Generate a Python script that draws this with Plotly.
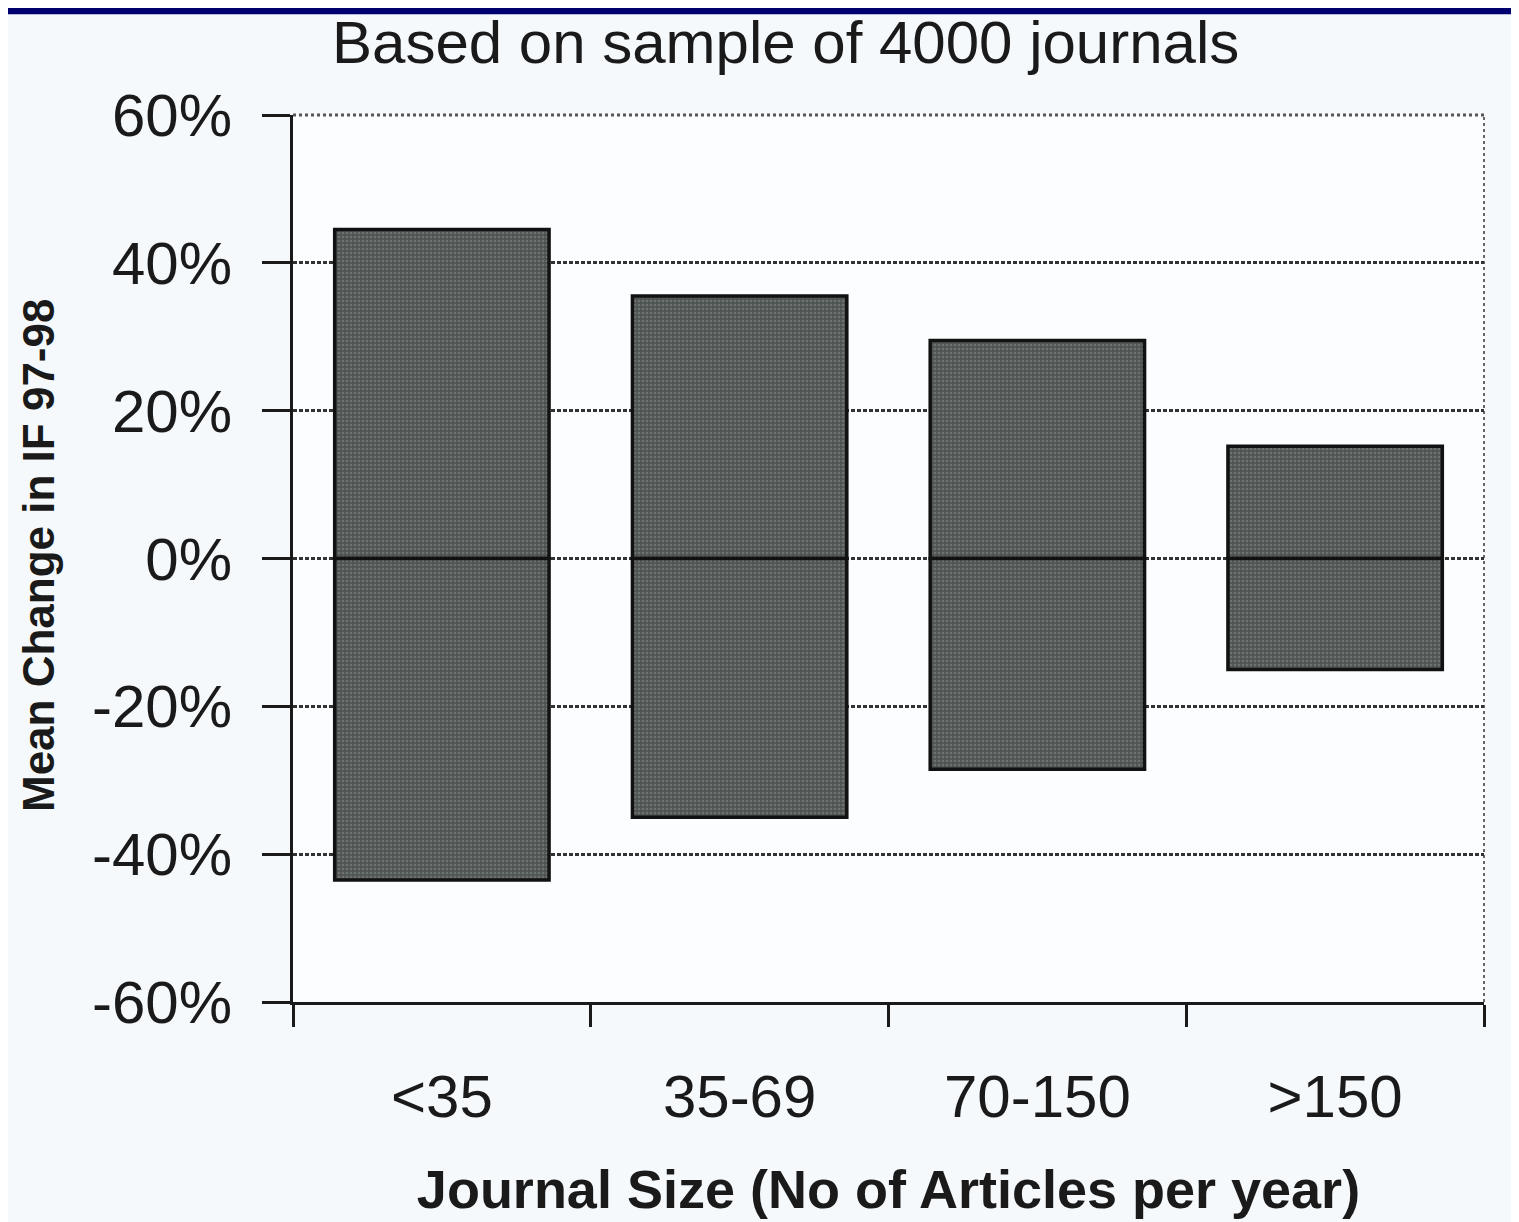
import plotly.graph_objects as go

categories = ["<35", "35-69", "70-150", ">150"]
positive_change = [44.5, 35.5, 29.5, 15.2]
negative_change = [-43.5, -35.0, -28.5, -15.0]
y_tick_vals = [-60, -40, -20, 0, 20, 40, 60]
y_tick_text = ["-60%", "-40%", "-20%", "0%", "20%", "40%", "60%"]
title_text = "Based on sample of 4000 journals"
x_title = "Journal Size (No of Articles per year)"
y_title = "Mean Change in IF 97-98"

# page offset (body margin) compensation
OFF = 8
W, H = 1519 - OFF, 1222 - OFF
L, T = 293 - OFF, 115 - OFF
R = W - (1484 - OFF)
B = H - (1004 - OFF)
plot_h = H - T - B
plot_w = W - L - R

def py(page_px):
    return (H - B - (page_px - OFF)) / plot_h

def pxx(page_px):
    return ((page_px - OFF) - L) / plot_w

FONT = "Liberation Sans, Arial, sans-serif"
bar_marker = dict(
    color="#5a5f5e",
    line=dict(color="#111111", width=3.5),
    pattern=dict(shape=".", fgcolor="#8d9291", bgcolor="#4f5453", size=4, solidity=0.35),
)

fig = go.Figure()
fig.add_trace(go.Bar(x=categories, y=positive_change, width=0.72, marker=bar_marker, showlegend=False))
fig.add_trace(go.Bar(x=categories, y=negative_change, width=0.72, marker=bar_marker, showlegend=False))

fig.update_layout(
    width=W, height=H,
    margin=dict(l=L, r=R, t=T, b=B),
    barmode="relative",
    paper_bgcolor="#f5f9fc",
    plot_bgcolor="#fbfdfe",
    font=dict(family=FONT, color="#1a1a1a"),
    xaxis=dict(
        type="category",
        tickson="boundaries",
        ticks="outside", ticklen=22, tickwidth=3, tickcolor="#1a1a1a",
        showline=True, linecolor="#1a1a1a", linewidth=3,
        showgrid=False,
        tickfont=dict(size=60, family=FONT, color="#1a1a1a"),
        ticklabelstandoff=40,
        title=dict(text=x_title, font=dict(size=54, family=FONT, color="#1a1a1a", weight="bold"), standoff=42),
    ),
    yaxis=dict(
        range=[-60, 60],
        tickvals=y_tick_vals, ticktext=y_tick_text,
        ticks="outside", ticklen=28, tickwidth=3, tickcolor="#1a1a1a",
        showline=True, linecolor="#1a1a1a", linewidth=3,
        showgrid=True, gridcolor="#333333", gridwidth=2.5, griddash="4px,2px",
        zeroline=False,
        tickfont=dict(size=60, family=FONT, color="#1a1a1a"),
        ticklabelstandoff=18,
        title=dict(text=""),
    ),
    shapes=[
        dict(type="rect", xref="paper", yref="paper", x0=pxx(-20), x1=pxx(W + 40), y0=py(OFF + 6), y1=py(-20),
             fillcolor="#00006e", line=dict(width=0), layer="above"),
        dict(type="line", xref="paper", yref="paper", x0=1, x1=1, y0=0, y1=1,
             line=dict(color="#666666", width=2, dash="dot"), layer="below"),
        dict(type="line", xref="paper", yref="paper", x0=0, x1=1, y0=1, y1=1,
             line=dict(color="#555555", width=3, dash="dot"), layer="below"),
    ],
    annotations=[
        dict(text=title_text, xref="paper", yref="paper", x=pxx(785), y=py(42),
             xanchor="center", yanchor="middle", showarrow=False,
             font=dict(size=60, family=FONT, color="#1a1a1a")),
        dict(text=y_title, xref="paper", yref="paper", x=pxx(38), y=py(557),
             xanchor="center", yanchor="middle", showarrow=False, textangle=-90,
             font=dict(size=44, family=FONT, color="#1a1a1a", weight="bold")),
    ],
)

fig.write_html("out.html")
